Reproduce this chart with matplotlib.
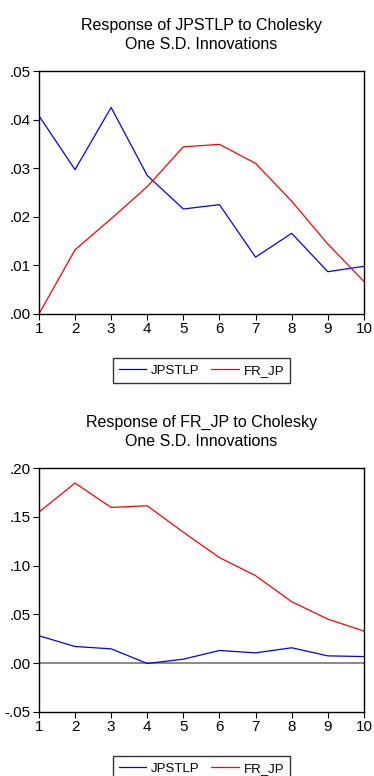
import matplotlib
matplotlib.use("Agg")
import matplotlib.pyplot as plt
from matplotlib.ticker import FuncFormatter

plt.rcParams["font.family"] = ["Liberation Sans", "DejaVu Sans"]

# ----------------------------
# Impulse response values
# ----------------------------
periods = [1, 2, 3, 4, 5, 6, 7, 8, 9, 10]

# Response of JPSTLP
jpstlp_to_jpstlp = [0.0408, 0.0297, 0.0425, 0.0285, 0.0216, 0.0225, 0.0117, 0.0166, 0.0087, 0.0098]
jpstlp_to_frjp = [0.0000, 0.0132, 0.0196, 0.0262, 0.0344, 0.0349, 0.0310, 0.0232, 0.0144, 0.0067]

# Response of FR_JP
frjp_to_jpstlp = [0.0281, 0.0171, 0.0147, -0.0003, 0.0041, 0.0130, 0.0106, 0.0158, 0.0075, 0.0068]
frjp_to_frjp = [0.1548, 0.1846, 0.1596, 0.1613, 0.1342, 0.1082, 0.0897, 0.0630, 0.0452, 0.0329]

series_names = ["JPSTLP", "FR_JP"]
series_colors = ["#0000ff", "#ff0000"]


def eviews_fmt(v, pos):
    s = f"{v:.2f}"
    return s.replace("0.", ".", 1)


def draw_panel(ax, title, blue, red, ylim, yticks, zero_line=False):
    if zero_line:
        ax.axhline(0, color="#808080", lw=1.3, zorder=1)
    ax.plot(periods, blue, color=series_colors[0], lw=0.9, label=series_names[0], zorder=2)
    ax.plot(periods, red, color=series_colors[1], lw=0.9, label=series_names[1], zorder=2)

    ax.set_xlim(1, 10)
    ax.set_ylim(*ylim)
    ax.set_xticks(periods)
    ax.set_yticks(yticks)
    ax.yaxis.set_major_formatter(FuncFormatter(eviews_fmt))
    ax.tick_params(direction="out", length=4, width=0.8, labelsize=11, pad=2)
    for sp in ax.spines.values():
        sp.set_linewidth(1.0)
        sp.set_color("black")
    ax.set_title(title, fontsize=11.5, pad=16, linespacing=1.3)


fig = plt.figure(figsize=(3.74, 7.76), dpi=100)

ax1 = fig.add_axes([0.104, 0.5954, 0.869, 0.3131])
draw_panel(ax1, "Response of JPSTLP to Cholesky\nOne S.D. Innovations",
           jpstlp_to_jpstlp, jpstlp_to_frjp, (0, 0.05),
           [0, 0.01, 0.02, 0.03, 0.04, 0.05])

ax2 = fig.add_axes([0.104, 0.0825, 0.869, 0.3144])
draw_panel(ax2, "Response of FR_JP to Cholesky\nOne S.D. Innovations",
           frjp_to_jpstlp, frjp_to_frjp, (-0.05, 0.20),
           [-0.05, 0, 0.05, 0.10, 0.15, 0.20], zero_line=True)

for ax, ycen in [(ax1, 1 - 370.5 / 776), (ax2, 1 - 768.5 / 776)]:
    h, l = ax.get_legend_handles_labels()
    leg = fig.legend(h, l, loc="center", bbox_to_anchor=(201.5 / 374, ycen),
                     ncol=2, fontsize=9.5, frameon=True, fancybox=False,
                     edgecolor="black", handlelength=2.1, handletextpad=0.35,
                     columnspacing=0.9, borderpad=0.45, borderaxespad=0)
    leg.get_frame().set_linewidth(1.0)

fig.savefig("out.png", dpi=100)
